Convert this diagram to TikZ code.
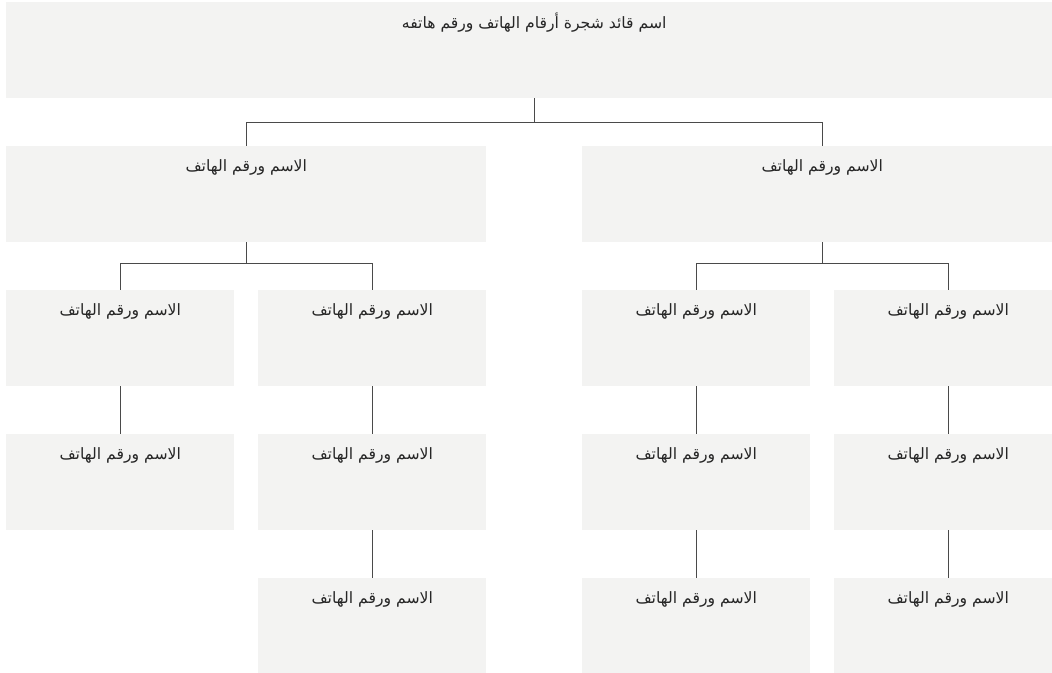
\documentclass[tikz,border=0pt]{standalone}
\usepackage{fontspec}
\newfontfamily\arabicfont[Script=Arabic]{DejaVu Sans}
\TeXXeTstate=1
\definecolor{boxfill}{HTML}{F3F3F2}
\definecolor{linecol}{HTML}{4A4A4A}
\definecolor{txtcol}{HTML}{262626}
\tikzset{
  orgbox/.style={draw=none, fill=boxfill, rectangle, inner sep=0pt, anchor=north west,
    minimum height=96bp},
  wbox/.style={orgbox, minimum width=228bp},
  bbox/.style={orgbox, minimum width=480bp},
  conn/.style={draw=linecol, line width=0.9pt},
  lbl/.style={label={[anchor=center,yshift=-21bp,font=\arabicfont\fontsize{15.7}{18}\selectfont,text=txtcol]north:#1}},
}
\begin{document}
\begin{tikzpicture}[x=1bp,y=-1bp]
\clip (0,0) rectangle (1052,673);
\fill[white] (0,0) rectangle (1052,673);
% top
\node[orgbox, minimum width=1056bp, lbl={\beginR اسم قائد شجرة أرقام الهاتف ورقم هاتفه\endR}] (top) at (6,2) {};
% level 2
\node[bbox, lbl={\beginR الاسم ورقم الهاتف\endR}] (L) at (6,146) {};
\node[bbox, lbl={\beginR الاسم ورقم الهاتف\endR}] (R) at (582,146) {};
% level 3
\node[wbox, lbl={\beginR الاسم ورقم الهاتف\endR}] (a1) at (6,290) {};
\node[wbox, lbl={\beginR الاسم ورقم الهاتف\endR}] (b1) at (258,290) {};
\node[wbox, lbl={\beginR الاسم ورقم الهاتف\endR}] (c1) at (582,290) {};
\node[wbox, lbl={\beginR الاسم ورقم الهاتف\endR}] (d1) at (834,290) {};
% level 4
\node[wbox, lbl={\beginR الاسم ورقم الهاتف\endR}] (a2) at (6,434) {};
\node[wbox, lbl={\beginR الاسم ورقم الهاتف\endR}] (b2) at (258,434) {};
\node[wbox, lbl={\beginR الاسم ورقم الهاتف\endR}] (c2) at (582,434) {};
\node[wbox, lbl={\beginR الاسم ورقم الهاتف\endR}] (d2) at (834,434) {};
% level 5
\node[wbox, lbl={\beginR الاسم ورقم الهاتف\endR}] (b3) at (258,578) {};
\node[wbox, lbl={\beginR الاسم ورقم الهاتف\endR}] (c3) at (582,578) {};
\node[wbox, lbl={\beginR الاسم ورقم الهاتف\endR}] (d3) at (834,578) {};
% connectors
\draw[conn] (top.south) -- ++(0,24.5) -| (L.north);
\draw[conn] (top.south) -- ++(0,24.5) -| (R.north);
\draw[conn] (L.south) -- ++(0,21) -| (a1.north);
\draw[conn] (L.south) -- ++(0,21) -| (b1.north);
\draw[conn] (R.south) -- ++(0,21) -| (c1.north);
\draw[conn] (R.south) -- ++(0,21) -| (d1.north);
\draw[conn] (a1.south) -- (a2.north);
\draw[conn] (b1.south) -- (b2.north);
\draw[conn] (b2.south) -- (b3.north);
\draw[conn] (c1.south) -- (c2.north);
\draw[conn] (c2.south) -- (c3.north);
\draw[conn] (d1.south) -- (d2.north);
\draw[conn] (d2.south) -- (d3.north);
\end{tikzpicture}
\end{document}
